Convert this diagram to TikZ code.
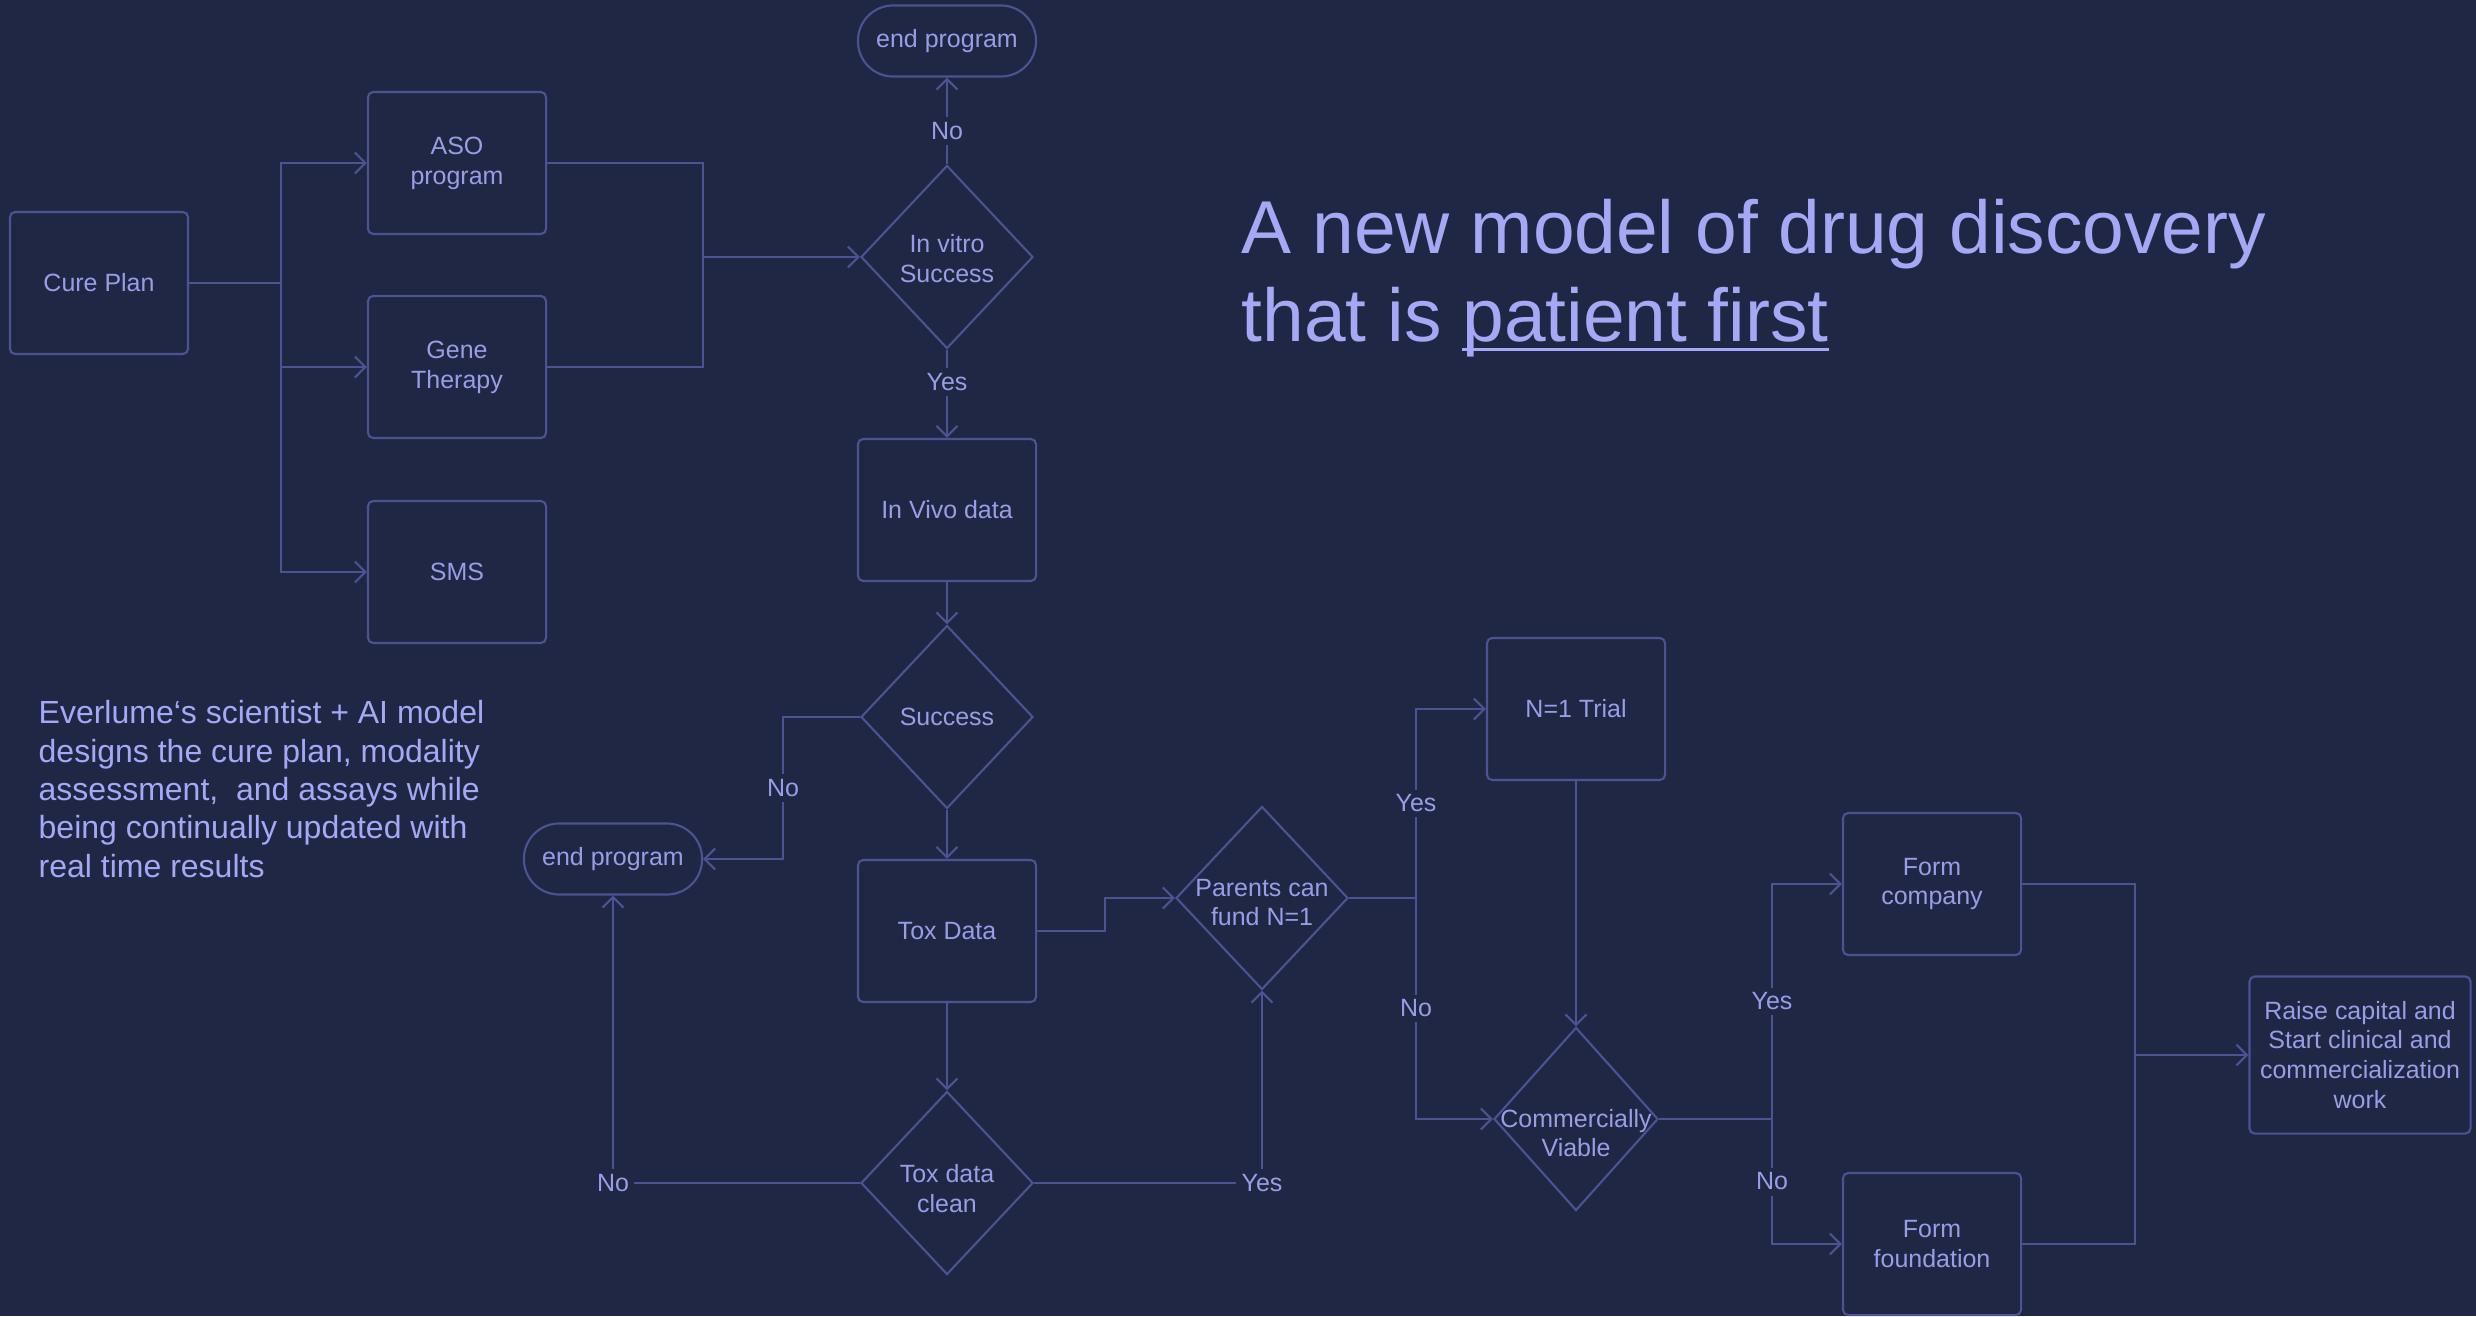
\documentclass[tikz,border=0pt]{standalone}
\usepackage{fontspec}
\setmainfont{Liberation Sans}
\usetikzlibrary{shapes.geometric,arrows.meta}
\definecolor{bgc}{RGB}{32,39,68}
\definecolor{linec}{RGB}{76,82,146}
\definecolor{txtc}{RGB}{154,157,230}
\definecolor{headc}{RGB}{166,168,246}
\newcommand{\titleline}[1]{\setbox0\hbox{#1}\rlap{\rule[-0.12em]{\wd0}{0.045em}}\box0}

\begin{document}
\begin{tikzpicture}[x=0.01cm,y=-0.01cm]
  \tikzset{every node/.style={font=\fontsize{7.1}{8.5}\selectfont, text=txtc}}
  \tikzset{stepbox/.style={draw=linec, line width=0.6pt, rounded corners=1.5pt, minimum width=1.78cm, minimum height=1.42cm, align=center, inner sep=0pt}}
  \tikzset{endbox/.style={draw=linec, line width=0.6pt, rounded corners=10pt, minimum width=1.78cm, minimum height=0.71cm, inner sep=0pt}}
  \tikzset{decision/.style 2 args={diamond, draw=linec, line width=0.6pt, minimum width=1.72cm, minimum height=1.83cm, inner sep=0pt, label={[align=center, yshift=#2]center:#1}}}
  \tikzset{flow/.style={draw=linec, line width=0.6pt, -{Straight Barb[length=3pt,width=6pt]}}}
  \tikzset{wire/.style={draw=linec, line width=0.6pt}}
  \tikzset{lbl/.style={fill=bgc, inner sep=1.5pt}}

  \fill[bgc] (0,0) rectangle (2476,1316);

  % left column
  \node[stepbox] (cure) at (99,283) {Cure Plan};
  \node[stepbox] (aso) at (457,163) {ASO\\program};
  \node[stepbox] (gene) at (457,367) {Gene\\Therapy};
  \node[stepbox] (sms) at (457,572) {SMS};

  % main column
  \node[endbox] (endtop) at (947,41) {end program};
  \node[decision={In vitro\\Success}{-0.4pt}] (vitro) at (947,257) {};
  \node[stepbox] (vivo) at (947,510) {In Vivo data};
  \node[decision={Success}{0pt}] (success) at (947,717) {};
  \node[stepbox] (tox) at (947,931) {Tox Data};
  \node[decision={Tox data\\clean}{-1.7pt}] (clean) at (947,1183) {};
  \node[endbox] (endleft) at (613,859) {end program};

  % right part
  \node[decision={Parents can\\fund N=1}{-1.3pt}] (parents) at (1262,898) {};
  \node[stepbox] (trial) at (1576,709) {N=1 Trial};
  \node[decision={Commercially\\Viable}{-4pt}, minimum width=1.64cm] (viable) at (1576,1119) {};
  \node[stepbox] (company) at (1932,884) {Form\\company};
  \node[stepbox] (foundation) at (1932,1244) {Form\\foundation};
  \node[stepbox, minimum width=2.21cm, minimum height=1.57cm] (raise) at (2360,1055) {Raise capital and\\Start clinical and\\commercialization\\work};

  % texts
  \node[anchor=north west, align=left, inner sep=0pt, text=headc, font=\fontsize{21.3}{25}\selectfont] (title) at (1241,199) {A new model of drug discovery\\that is \titleline{patient first}};
  \node[anchor=north west, align=left, inner sep=0pt, text=headc, font=\fontsize{9.1}{10.9}\selectfont] (note) at (38,700) {Everlume‘s scientist + AI model\\designs the cure plan, modality\\assessment,\ \ and assays while\\being continually updated with\\real time results};

  \coordinate (split) at (281,283);
  \coordinate (join) at (703,257);
  \coordinate (sbend) at (783,859);
  \coordinate (kink) at (1105,898);
  \coordinate (fork) at (1416,898);
  \coordinate (vfork) at (1772,1119);
  \coordinate (merge) at (2135,1055);

  % connectors
  \draw[wire] (cure.east) -- (split);
  \foreach \n in {aso,gene,sms} \draw[flow] (split) |- (\n.west);
  \draw[wire] (aso.east) -| (join);
  \draw[wire] (gene.east) -| (join);
  \draw[flow] (join) -- (vitro.west);
  \draw[flow] (vitro.north) -- node[lbl,pos=0.38] {No} (endtop.south);
  \draw[flow] (vitro.south) -- node[lbl,pos=0.37] {Yes} (vivo.north);
  \draw[flow] (vivo) -- (success);
  \draw[flow] (success) -- (tox);
  \draw[flow] (tox) -- (clean);
  \draw[flow] (success.west) -| node[lbl,pos=0.75] {No} (sbend) -- (endleft.east);
  \draw[flow] (clean.west) -| node[lbl,pos=0.5] {No} (endleft.south);
  \draw[flow] (clean.east) -| node[lbl,pos=0.5] {Yes} (parents.south);
  \draw[flow] (tox.east) -| (kink) -- (parents.west);
  \draw[wire] (parents.east) -- (fork);
  \draw[flow] (fork) |- node[lbl,pos=0.25] {Yes} (trial.west);
  \draw[flow] (fork) |- node[lbl,pos=0.25] {No} (viable.west);
  \draw[flow] (trial) -- (viable);
  \draw[wire] (viable.east) -- (vfork);
  \draw[flow] (vfork) |- node[lbl,pos=0.25] {Yes} (company.west);
  \draw[flow] (vfork) |- node[lbl,pos=0.25] {No} (foundation.west);
  \draw[wire] (company.east) -| (merge);
  \draw[wire] (foundation.east) -| (merge);
  \draw[flow] (merge) -- (raise.west);
\end{tikzpicture}
\end{document}
